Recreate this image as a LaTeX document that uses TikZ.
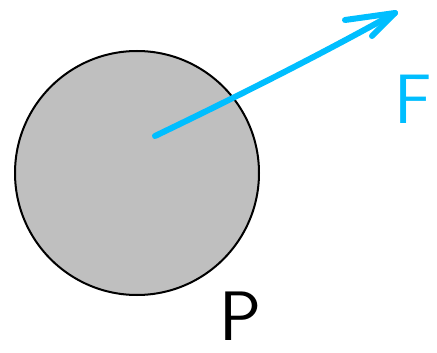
\documentclass[tikz,border=0pt]{standalone}
\usepackage{tikz}
\usetikzlibrary{positioning}
\definecolor{forceblue}{RGB}{0,190,255}
\definecolor{ballgray}{RGB}{191,191,191}

\begin{document}
\begin{tikzpicture}[x=1pt,y=-1pt,
    ball/.style={circle,draw=black,line width=2pt,fill=ballgray,minimum size=244pt,inner sep=0pt},
    force/.style={forceblue,line width=6pt,line cap=round,line join=round},
    label/.style={font=\sffamily\fontsize{70}{70}\selectfont,inner sep=0pt}]
        \useasboundingbox (0,0) rectangle (437,353);
        \node[ball] (P) at (137,173) {};
        \coordinate (start) at (155,136);
        \coordinate (tip) at (395,13);
        \coordinate (barbA) at (345,20);
        \coordinate (barbB) at (372,36);
        \draw[force] (start) .. controls (230,100) and (320,55) .. (tip);
        \draw[force] (barbA) -- (tip) -- (barbB);
        \node[label,text=forceblue,anchor=west] (Flbl) at (394,99) {F};
        \node[label,text=black] (Plbl) at (240,316) {P};
    \end{tikzpicture}
\end{document}
